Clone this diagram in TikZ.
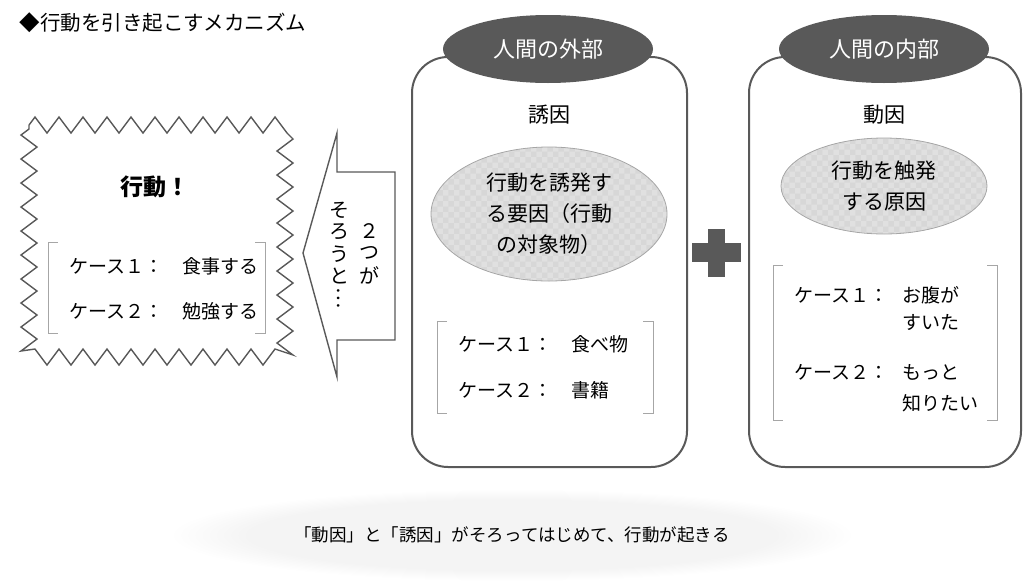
\documentclass[tikz,border=0pt]{standalone}
\usepackage{fontspec}
\setmainfont{Noto Sans CJK JP}
\usetikzlibrary{shapes.geometric,decorations.pathmorphing,patterns}
\definecolor{panelgray}{HTML}{595959}
\definecolor{bracketgray}{HTML}{A6A6A6}
\pgfdeclareradialshading{glow}{\pgfpoint{0bp}{0bp}}{%
  color(0bp)=(gray!9); color(19bp)=(gray!9); color(25bp)=(white); color(50bp)=(white)}

\begin{document}
\begin{tikzpicture}[x=1pt,y=-1pt,
  panel/.style={draw=panelgray,line width=2pt,rounded corners=36pt},
  header/.style={ellipse,fill=panelgray,text=white,minimum width=210pt,minimum height=68pt,
    font=\fontsize{22}{26}\selectfont},
  cause/.style={ellipse,draw=gray!70,line width=0.8pt,preaction={fill=gray!24},
    pattern=checkerboard,pattern color=gray!31,align=center,
    font=\fontsize{21}{31}\selectfont},
  label/.style={font=\fontsize{21}{26}\selectfont},
  case/.style={anchor=west,font=\fontsize{19}{23}\selectfont},
  bracket/.style={draw=bracketgray,line width=1pt},
  vchar/.style={font=\fontsize{20}{22}\selectfont,inner sep=0pt}]
\useasboundingbox (0,0) rectangle (1024,584);

%%%  title
\node[anchor=west,font=\fontsize{20.5}{24}\selectfont] (title) at (16,23) {◆行動を引き起こすメカニズム};

%%%  action (zigzag box)
\draw[panelgray,line width=1.4pt,decorate,
  decoration={zigzag,segment length=24pt,amplitude=8pt}]
  (29,125) -- (285,125) -- (285,357) -- (29,357) -- cycle;
\node[font=\fontsize{23}{28}\selectfont\bfseries] (act) at (155,187) {行動！};
\node[case] (act1) at (66,266) {ケース１：　食事する};
\node[case] (act2) at (66,311) {ケース２：　勉強する};
\draw[bracket] (58,242) -- (48,242) -- (48,333) -- (58,333);
\draw[bracket] (255,242) -- (265,242) -- (265,333) -- (255,333);

%%%  arrow to the left
\draw[panelgray,line width=1.4pt,fill=white]
  (395,172) -- (337,172) -- (337,133) -- (303,253) -- (337,377)
  -- (337,340) -- (395,340) -- cycle;
\foreach \ch [count=\i] in {２,つ,が}{%
  \node[vchar] (r\i) at (369,209+22*\i) {\ch};}
\foreach \ch [count=\i] in {そ,ろ,う,と}{%
  \node[vchar] (l\i) at (339,188+22*\i) {\ch};}
\node[vchar,rotate=-90] (l5) at (339,298) {…};

%%%  outside of the human
\draw[panel] (412,57) rectangle (687,467);
\node[header] (outer) at (548,49) {人間の外部};
\node[label] (lure) at (549,115) {誘因};
\node[cause,minimum width=236pt,minimum height=134pt] (lurec) at (549,214)
  {行動を誘発す\\る要因（行動\\の対象物）};
\node[case] (out1) at (455,344) {ケース１：　食べ物};
\node[case] (out2) at (455,390) {ケース２：　書籍};
\draw[bracket] (447,321) -- (437,321) -- (437,413) -- (447,413);
\draw[bracket] (643,321) -- (653,321) -- (653,413) -- (643,413);

%%%  plus
\fill[panelgray] (708,229) rectangle (725,277);
\fill[panelgray] (692,243) rectangle (741,262);

%%%  inside of the human
\draw[panel] (749,57) rectangle (1021,467);
\node[header] (inner) at (884,49) {人間の内部};
\node[label] (drive) at (884,115) {動因};
\node[cause,minimum width=206pt,minimum height=96pt] (drivec) at (884,186)
  {行動を触発\\する原因};
\node[case] (in1) at (791,295) {ケース１：};
\node[case] (in1a) at (899,295) {お腹が};
\node[case] (in1b) at (899,322) {すいた};
\node[case] (in2) at (791,372) {ケース２：};
\node[case] (in2a) at (899,372) {もっと};
\node[case] (in2b) at (899,403) {知りたい};
\draw[bracket] (783,265) -- (773,265) -- (773,420) -- (783,420);
\draw[bracket] (987,265) -- (997,265) -- (997,420) -- (987,420);

%%%  conclusion
\shade[shading=glow] (512,535) ellipse [x radius=342pt,y radius=46pt];
\node[font=\fontsize{17.5}{21}\selectfont] (concl) at (512,535)
  {「動因」と「誘因」がそろってはじめて、行動が起きる};
\end{tikzpicture}
\end{document}
